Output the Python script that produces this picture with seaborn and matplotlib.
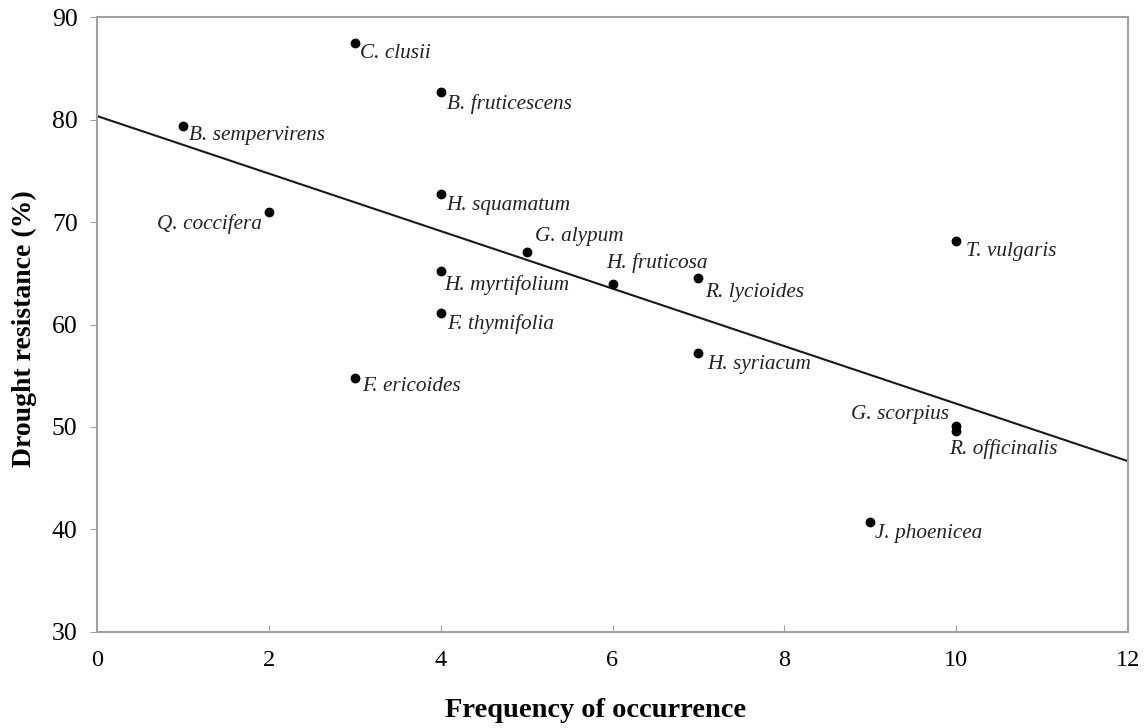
import matplotlib
matplotlib.use("Agg")
import matplotlib.pyplot as plt
import seaborn as sns
import pandas as pd

species = ["C. clusii", "B. fruticescens", "B. sempervirens", "Q. coccifera",
           "H. squamatum", "G. alypum", "H. myrtifolium", "H. fruticosa",
           "R. lycioides", "F. thymifolia", "H. syriacum", "F. ericoides",
           "T. vulgaris", "G. scorpius", "R. officinalis", "J. phoenicea"]
frequency = [3, 4, 1, 2, 4, 5, 4, 6, 7, 4, 7, 3, 10, 10, 10, 9]
drought = [87.5, 82.7, 79.4, 71.0, 72.7, 67.1, 65.2, 64.0,
           64.5, 61.1, 57.2, 54.8, 68.1, 50.1, 49.6, 40.7]

xticks = [0, 2, 4, 6, 8, 10, 12]
yticks = [30, 40, 50, 60, 70, 80, 90]

df = pd.DataFrame({"species": species, "freq": frequency, "dr": drought})

sns.set_style("white")
plt.rcParams["font.family"] = ["Liberation Serif", "DejaVu Serif"]

fig = plt.figure(figsize=(11.48, 7.28), dpi=100)
ax = fig.add_axes([0.0845, 0.1319, 0.8981, 0.8447])
ax.set_xlim(0, 12)
ax.set_ylim(30, 90)

sns.regplot(data=df, x="freq", y="dr", ax=ax, ci=None, truncate=False,
            scatter=False, line_kws={"color": "#1a1a1a", "lw": 1.5})
sns.scatterplot(data=df, x="freq", y="dr", ax=ax, color="black", s=50,
                edgecolor="black", linewidth=0, zorder=3)

# label offsets in pixels (dx, dy), horizontal alignment
offsets = {
    "C. clusii": (5, -11, "left"),
    "B. fruticescens": (6, -12, "left"),
    "B. sempervirens": (6, -10, "left"),
    "Q. coccifera": (-7, -12, "right"),
    "H. squamatum": (6, -11, "left"),
    "G. alypum": (8, 15, "left"),
    "H. myrtifolium": (4, -14, "left"),
    "H. fruticosa": (-6, 20, "left"),
    "R. lycioides": (7, -14, "left"),
    "F. thymifolia": (6, -11, "left"),
    "H. syriacum": (9, -11, "left"),
    "F. ericoides": (7, -9, "left"),
    "T. vulgaris": (10, -10, "left"),
    "G. scorpius": (-7, 11, "right"),
    "R. officinalis": (-7, -18, "left"),
    "J. phoenicea": (5, -11, "left"),
}
for sp, xv, yv in zip(species, frequency, drought):
    dx, dy, ha = offsets[sp]
    ax.annotate(sp, (xv, yv), xytext=(dx * 0.72, dy * 0.72),
                textcoords="offset points", ha=ha, va="center",
                fontsize=15.3, style="italic", color="#222222")

ax.set_xticks(xticks)
ax.set_yticks(yticks)
ax.tick_params(axis="x", direction="in", length=5, color="#a0a0a0",
               labelsize=17.5, pad=13, labelcolor="black", bottom=True)
ax.tick_params(axis="y", direction="out", length=5, color="#a0a0a0",
               labelsize=18.5, pad=9, labelcolor="black", left=True)
for sp in ax.spines.values():
    sp.set_color("#a0a0a0")
    sp.set_linewidth(1.5)

ax.set_xlabel("Frequency of occurrence", fontsize=20.5, fontweight="bold",
              color="black")
ax.set_ylabel("Drought resistance (%)", fontsize=20, fontweight="bold",
              color="black")
ax.xaxis.set_label_coords(0.484, -0.107)
ax.yaxis.set_label_coords(-0.058, 0.494)

fig.savefig("out.png", dpi=100)
